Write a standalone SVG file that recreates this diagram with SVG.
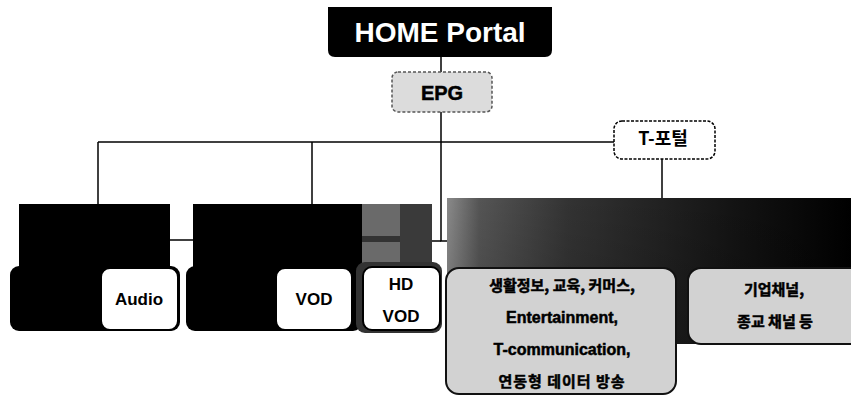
<svg xmlns="http://www.w3.org/2000/svg" width="851" height="398" viewBox="0 0 851 398">
<defs>
<style>
.ln{stroke:#000;stroke-width:1.5;fill:none}
.lbl{font-family:'Liberation Sans','Noto Sans CJK KR',sans-serif;font-weight:bold;text-anchor:middle}
.ko{font-family:'Noto Sans CJK KR','Liberation Sans',sans-serif;font-weight:bold;text-anchor:middle}
.heavy{stroke:#000;stroke-width:0.5}
.wbox{fill:#fff;stroke:#000;stroke-width:2}
.gbox{fill:#d2d2d2;stroke:#111;stroke-width:2}
</style>
<linearGradient id="g3" x1="0" y1="0" x2="1" y2="0">
<stop offset="0" stop-color="#8a8a8a"/>
<stop offset="0.08" stop-color="#555"/>
<stop offset="0.3" stop-color="#333"/>
<stop offset="0.7" stop-color="#141414"/>
<stop offset="1" stop-color="#000"/>
</linearGradient>
<linearGradient id="g3v" x1="0" y1="0" x2="0" y2="1">
<stop offset="0" stop-color="#000" stop-opacity="0"/>
<stop offset="1" stop-color="#000" stop-opacity="0.2"/>
</linearGradient>
</defs>
<rect width="851" height="398" fill="#fff"/>

<g id="connectors">
<line class="ln" x1="441" y1="57" x2="441" y2="72"/>
<polyline class="ln" points="441,112 441,241 447,241"/>
<line class="ln" x1="432" y1="241" x2="441" y2="241"/>
<line class="ln" x1="98" y1="142" x2="614" y2="142"/>
<line class="ln" x1="98" y1="142" x2="98" y2="204"/>
<line class="ln" x1="312" y1="142" x2="312" y2="204"/>
<line class="ln" x1="662" y1="159" x2="662" y2="198"/>
<line class="ln" x1="170" y1="240" x2="193" y2="240"/>
</g>

<g id="home">
<path d="M328,7 H552 V50 Q552,57 545,57 H335 Q328,57 328,50 Z" fill="#000"/>
<text class="lbl" x="440" y="42" font-size="28" fill="#fff">HOME Portal</text>
</g>

<g id="epg">
<rect x="392" y="72" width="100" height="40" rx="6" fill="#dcdcdc" stroke="#555" stroke-width="1.5" stroke-dasharray="3 2"/>
<text class="lbl heavy" x="442" y="100" font-size="20" fill="#000">EPG</text>
</g>

<g id="tportal">
<rect x="614" y="121" width="101" height="38" rx="8" fill="#fff" stroke="#000" stroke-width="1.5" stroke-dasharray="3 1.5"/>
<text class="ko" x="663" y="145" font-size="18" fill="#000">T-포털</text>
</g>

<g id="audio-group">
<rect x="19" y="204" width="151" height="70" fill="#000"/>
<rect x="10" y="266" width="170" height="65" rx="9" fill="#000"/>
<rect class="wbox" x="101" y="268" width="77" height="62" rx="9"/>
<text class="lbl" x="139" y="305" font-size="17" fill="#000">Audio</text>
</g>

<g id="vod-group">
<rect x="193" y="204" width="239" height="66" fill="#000"/>
<rect x="362" y="204" width="38" height="60" fill="#6a6a6a"/>
<rect x="362" y="236" width="38" height="6" fill="#333"/>
<rect x="400" y="204" width="32" height="60" fill="#3a3a3a"/>
<rect x="186" y="266" width="176" height="65" rx="9" fill="#000"/>
<rect x="356" y="262" width="86" height="71" rx="9" fill="#333"/>
<rect class="wbox" x="276" y="268" width="76" height="62" rx="9"/>
<text class="lbl" x="314" y="305" font-size="17" fill="#000">VOD</text>
<rect class="wbox" x="363" y="267" width="77" height="63" rx="9"/>
<text class="lbl" x="401" y="290" font-size="17" fill="#000">HD</text>
<text class="lbl" x="401" y="322" font-size="17" fill="#000">VOD</text>
</g>

<g id="data-group">
<rect x="447" y="198" width="404" height="146" fill="url(#g3)"/>
<rect x="447" y="198" width="404" height="146" fill="url(#g3v)"/>
<rect class="gbox" x="446" y="268" width="230" height="126" rx="13"/>
<text class="ko heavy" x="562" y="291" font-size="15" fill="#000">생활정보, 교육, 커머스,</text>
<text class="lbl heavy" x="562" y="323" font-size="16" fill="#000">Entertainment,</text>
<text class="lbl heavy" x="562" y="355" font-size="16" fill="#000">T-communication,</text>
<text class="ko heavy" x="562" y="387" font-size="15" fill="#000" letter-spacing="1">연동형 데이터 방송</text>
<rect class="gbox" x="688" y="268" width="178" height="76" rx="13"/>
<text class="ko heavy" x="774" y="295" font-size="15" fill="#000">기업채널,</text>
<text class="ko heavy" x="775" y="327" font-size="15" fill="#000">종교 채널 등</text>
</g>
</svg>
